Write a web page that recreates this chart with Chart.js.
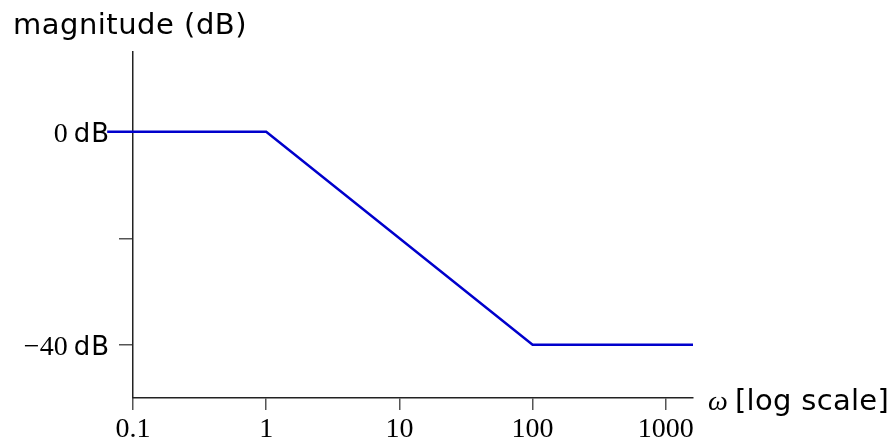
<!DOCTYPE html>
<html>
<head>
<meta charset="utf-8">
<script src="https://cdn.jsdelivr.net/npm/chart.js@4"></script>
<style>
  html, body { margin: 0; padding: 0; background: #fff; }
  #wrap { width: 891px; height: 443px; }
</style>
</head>
<body>
<div id="wrap"><canvas id="myChart"></canvas></div>
<script>
// asymptotic magnitude plot
const omega = [0.064, 1, 100, 1600];
const magnitude = [0, 0, -40, -40];
const xTicks = [0.1, 1, 10, 100, 1000];
const yTicks = [0, -20, -40];
const yTickLabels = ['0', '', '\u221240'];

const serif = '"Liberation Serif", "DejaVu Serif", serif';
const sans = '"DejaVu Sans", sans-serif';

const labelsPlugin = {
    id: 'labels',
    beforeDatasetsDraw(chart) {
        const ctx = chart.ctx;
        const y = chart.scales.y;
        ctx.save();
        ctx.fillStyle = '#000';
        ctx.textBaseline = 'alphabetic';
        yTicks.forEach((v, i) => {
            const text = yTickLabels[i];
            if (!text) return;
            const py = y.getPixelForValue(v) + 10;
            ctx.font = '26px ' + sans;
            ctx.letterSpacing = '1px';
            const wUnit = ctx.measureText('dB').width;
            ctx.textAlign = 'right';
            ctx.fillText('dB', 110, py);
            ctx.letterSpacing = '0px';
            ctx.font = '28px ' + serif;
            ctx.fillText(text, 110 - wUnit - 6, py);
        });
        ctx.restore();
    },
    afterDraw(chart) {
        const ctx = chart.ctx;
        const area = chart.chartArea;
        ctx.save();
        ctx.fillStyle = '#000';
        ctx.textBaseline = 'alphabetic';
        ctx.textAlign = 'left';
        ctx.font = '29px ' + sans;
        ctx.letterSpacing = '0.5px';
        ctx.fillText('magnitude (dB)', 13, 34);
        ctx.letterSpacing = '0px';
        ctx.font = 'italic 28px ' + serif;
        ctx.fillText('\u03c9', area.right + 15, area.bottom + 12);
        ctx.font = '29px ' + sans;
        ctx.letterSpacing = '0.3px';
        ctx.fillText('[log scale]', area.right + 42, area.bottom + 12);
        ctx.restore();
    }
};

const ctx = document.getElementById('myChart').getContext('2d');
const myChart = new Chart(ctx, {
    type: 'scatter',
    data: {
        datasets: [{
            data: omega.map((w, i) => ({ x: w, y: magnitude[i] })),
            showLine: true,
            borderColor: '#0000cc',
            borderWidth: 2.5,
            pointRadius: 0,
            clip: false
        }]
    },
    options: {
        responsive: true,
        maintainAspectRatio: false,
        animation: false,
        layout: { padding: { left: 0, top: 52, right: 198, bottom: 0 } },
        plugins: {
            legend: { display: false },
            tooltip: { enabled: false }
        },
        scales: {
            x: {
                type: 'logarithmic',
                min: 0.1,
                max: 1600,
                afterBuildTicks: (scale) => {
                    scale.ticks = xTicks.map(v => ({ value: v }));
                },
                afterFit: (scale) => { scale.height = 45; },
                ticks: {
                    autoSkip: false,
                    maxRotation: 0,
                    padding: 3,
                    color: '#000',
                    font: { family: serif, size: 28 },
                    callback: (v) => String(v)
                },
                grid: {
                    drawOnChartArea: false,
                    tickLength: 12,
                    color: '#555',
                    lineWidth: 1.5
                },
                border: { color: '#222', width: 1.5 }
            },
            y: {
                type: 'linear',
                min: -50,
                max: 15,
                afterBuildTicks: (scale) => {
                    scale.ticks = yTicks.map(v => ({ value: v }));
                },
                afterFit: (scale) => { scale.width = 133; },
                ticks: {
                    autoSkip: false,
                    callback: () => ''
                },
                grid: {
                    drawOnChartArea: false,
                    tickLength: 14,
                    color: '#555',
                    lineWidth: 1.5
                },
                border: { color: '#222', width: 1.5 }
            }
        }
    },
    plugins: [labelsPlugin]
});
</script>
</body>
</html>
